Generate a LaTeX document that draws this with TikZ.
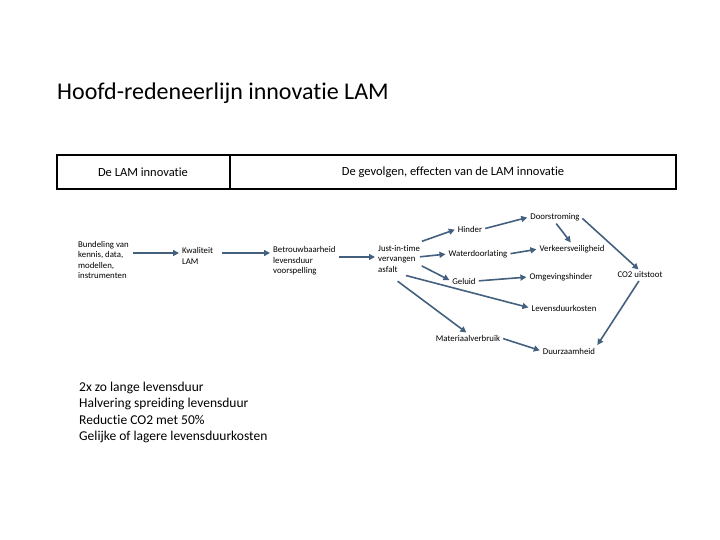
\documentclass[tikz,border=0pt]{standalone}
\usepackage{fontspec}
\setmainfont{Carlito}[Ligatures={NoCommon}]
\usetikzlibrary{arrows.meta}
\definecolor{arr}{HTML}{44607F}
\begin{document}
\begin{tikzpicture}[x=1pt,y=-1pt,
  lab/.style={font=\fontsize{8.8}{10.5}\selectfont,align=left,inner sep=1pt},
  ar/.style={draw=arr,line width=1.6pt,-{Triangle[length=6pt,width=6pt]},shorten >=2pt,shorten <=2pt}]
\useasboundingbox (0,0) rectangle (720,540);
\node[anchor=west,font=\fontsize{24}{28}\selectfont,inner sep=0pt] (title) at (57,93) {Hoofd-redeneerlijn innovatie LAM};
\draw[line width=1.8pt] (57,155) rectangle (676,189);
\draw[line width=1.8pt] (230,155) -- (230,189);
\node[font=\fontsize{12.5}{15}\selectfont] (h1) at (143,172) {De LAM innovatie};
\node[font=\fontsize{12.5}{15}\selectfont] (h2) at (453,172) {De gevolgen, effecten van de LAM innovatie};
\node[lab,anchor=west] (bun) at (77,260) {Bundeling van\\kennis, data,\\modellen,\\instrumenten};
\node[lab,anchor=west] (kwa) at (181,256) {Kwaliteit\\LAM};
\node[lab,anchor=west] (bet) at (272,261) {Betrouwbaarheid\\levensduur\\voorspelling};
\node[lab,anchor=west] (jit) at (377,259) {Just-in-time\\vervangen\\asfalt};
\node[lab] (hin) at (470,229) {Hinder};
\node[lab] (doo) at (555,217) {Doorstroming};
\node[lab] (wat) at (478,254) {Waterdoorlating};
\node[lab] (ver) at (572,249) {Verkeersveiligheid};
\node[lab] (gel) at (464,281) {Geluid};
\node[lab] (omg) at (561,277) {Omgevingshinder};
\node[lab] (co2) at (640,275) {CO2 uitstoot};
\node[lab] (lev) at (564,308) {Levensduurkosten};
\node[lab] (mat) at (468,338) {Materiaalverbruik};
\node[lab] (duu) at (569,351) {Duurzaamheid};
\node[anchor=north west,align=left,font=\fontsize{13.5}{16.3}\selectfont,inner sep=0pt] (sum) at (79,382) {2x zo lange levensduur\\Halvering spreiding levensduur\\Reductie CO2 met 50\%\\Gelijke of lagere levensduurkosten};
\draw[ar] (131,253) -- (kwa.west|-0,253);
\draw[ar] (220,253) -- (bet.west|-0,253);
\draw[ar] (bet.east|-0,257) -- (jit.west|-0,257);
\draw[ar] (420,242) -- (hin.west);
\draw[ar] (hin.east) -- (doo.west);
\draw[ar] (doo.south) -- (ver.north);
\draw[ar] (doo.east) -- (co2.north);
\draw[ar] (418,257) -- (wat.west);
\draw[ar] (420,265) -- (gel.west);
\draw[ar] (wat.east) -- (ver.west);
\draw[ar] (gel.east) -- (omg.west);
\draw[ar] (404,275) -- (lev.west);
\draw[ar] (396,280) -- (mat.north);
\draw[ar] (mat.east) -- (duu.west);
\draw[ar] (co2.south) -- (duu.north east);
\end{tikzpicture}
\end{document}
